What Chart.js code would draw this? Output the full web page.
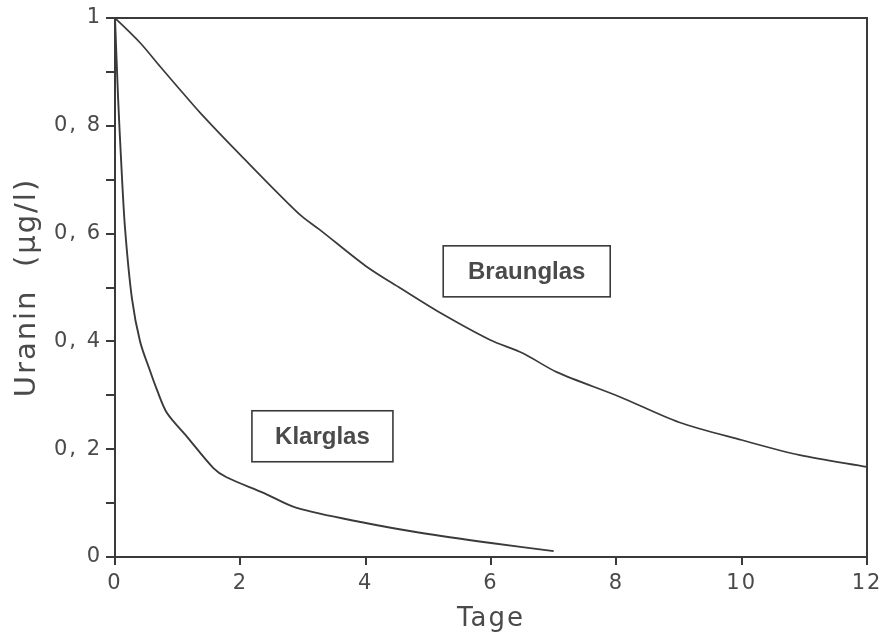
<!DOCTYPE html>
<html>
<head>
<meta charset="utf-8">
<script src="https://cdn.jsdelivr.net/npm/chart.js@4"></script>
<style>
  html, body { margin:0; padding:0; background:#fff; }
  #wrap { width:881px; height:635px; }
</style>
</head>
<body>
<div id="wrap"><canvas id="c" width="881" height="635"></canvas></div>
<script>
// days, uranin values
const braunDays = [0, 0.4, 0.72, 1, 1.36, 2, 2.95, 3.27, 4, 4.55, 5.19, 5.98, 6.51, 7.05, 8.06, 9, 10, 10.93, 12];
const braunVals = [1, 0.954, 0.91, 0.872, 0.824, 0.746, 0.635, 0.607, 0.54, 0.499, 0.453, 0.403, 0.378, 0.343, 0.297, 0.25, 0.217, 0.189, 0.167];

const klarDays = [0, 0.05, 0.1, 0.16, 0.27, 0.4, 0.56, 0.67, 0.83, 1.15, 1.57, 1.78, 2.37, 2.9, 4, 4.87, 6, 7];
const klarVals = [1, 0.85, 0.73, 0.61, 0.48, 0.4, 0.345, 0.31, 0.267, 0.223, 0.165, 0.148, 0.119, 0.091, 0.063, 0.045, 0.026, 0.011];

const labelBoxes = [
    {text:"Braunglas", x:6.57, y:0.53, w:167, h:51},
    {text:"Klarglas", x:3.31, y:0.224, w:141, h:51}
];

const ink = "#3a3a3a";
const textInk = "#4a4a4a";
const axisFont = "'DejaVu Sans', sans-serif";

function toPoints(xs, ys){
    return xs.map((x, i) => ({x:x, y:ys[i]}));
}

// the scanned figure has widely spaced axis lettering
const spacing = {
    id:"spacing",
    beforeDraw(chart){
        chart.ctx.letterSpacing = "2px";
    }
};

const frameAndBoxes = {
    id:"frameAndBoxes",
    afterDatasetsDraw(chart){
        const ctx = chart.ctx;
        const a = chart.chartArea;
        ctx.save();
        ctx.letterSpacing = "0px";
        ctx.strokeStyle = ink;
        ctx.lineWidth = 2;
        ctx.strokeRect(a.left, a.top, a.right - a.left, a.bottom - a.top);

        const sx = chart.scales.x, sy = chart.scales.y;
        ctx.font = "bold 24px 'Liberation Sans', Arial, sans-serif";
        ctx.textAlign = "center";
        ctx.textBaseline = "middle";
        labelBoxes.forEach(b => {
            const cx = sx.getPixelForValue(b.x);
            const cy = sy.getPixelForValue(b.y);
            ctx.fillStyle = "#fff";
            ctx.fillRect(cx - b.w/2, cy - b.h/2, b.w, b.h);
            ctx.lineWidth = 1.6;
            ctx.strokeRect(cx - b.w/2, cy - b.h/2, b.w, b.h);
            ctx.fillStyle = textInk;
            ctx.fillText(b.text, cx, cy + 1);
        });
        ctx.restore();
    }
};

new Chart(document.getElementById("c").getContext("2d"), {
    type:"scatter",
    data:{
        datasets:[
            {
                label:"Braunglas",
                data:toPoints(braunDays, braunVals),
                showLine:true,
                borderColor:ink,
                borderWidth:1.7,
                pointRadius:0,
                tension:0.3
            },
            {
                label:"Klarglas",
                data:toPoints(klarDays, klarVals),
                showLine:true,
                borderColor:ink,
                borderWidth:1.9,
                pointRadius:0,
                tension:0.3
            }
        ]
    },
    options:{
        responsive:false,
        animation:false,
        layout:{ padding:{ left:0, top:18, right:14, bottom:0 } },
        plugins:{
            legend:{ display:false },
            tooltip:{ enabled:false }
        },
        scales:{
            x:{
                type:"linear",
                min:0,
                max:12,
                ticks:{
                    stepSize:2,
                    color:textInk,
                    padding:6,
                    font:{ family:axisFont, size:21 }
                },
                grid:{
                    drawOnChartArea:false,
                    drawTicks:true,
                    tickLength:8,
                    color:ink,
                    lineWidth:2
                },
                border:{ color:ink, width:2 },
                title:{
                    display:true,
                    text:"Tage",
                    color:textInk,
                    padding:{ top:0, bottom:0 },
                    font:{ family:axisFont, size:26 }
                },
                afterFit(scale){
                    scale.height = 78;
                    scale.paddingLeft = 0;
                    scale.paddingRight = 0;
                }
            },
            y:{
                type:"linear",
                min:0,
                max:1,
                ticks:{
                    stepSize:0.1,
                    color:textInk,
                    padding:4,
                    font:{ family:axisFont, size:21 },
                    callback(v){
                        const r = Math.round(v * 10);
                        if (r % 2 !== 0) return "";
                        if (r === 0) return "0";
                        if (r === 10) return "1";
                        return "0, " + r;
                    }
                },
                grid:{
                    drawOnChartArea:false,
                    drawTicks:true,
                    tickLength:9,
                    color:ink,
                    lineWidth:2
                },
                border:{ color:ink, width:2 },
                title:{
                    display:true,
                    text:"Uranin  (µg/l)",
                    color:textInk,
                    padding:{ top:10, bottom:0 },
                    font:{ family:axisFont, size:29 }
                },
                afterFit(scale){
                    scale.width = 115;
                    scale.paddingTop = 0;
                    scale.paddingBottom = 0;
                }
            }
        }
    },
    plugins:[spacing, frameAndBoxes]
});
</script>
</body>
</html>
